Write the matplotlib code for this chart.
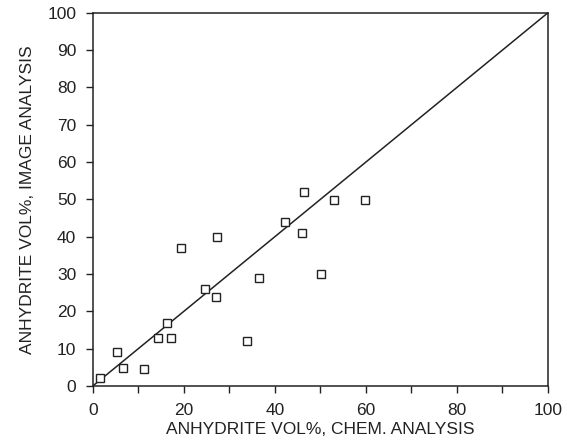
import matplotlib
matplotlib.use("Agg")
import matplotlib.pyplot as plt

# anhydrite vol%: chemical analysis vs image analysis
chem = [1.6, 5.3, 6.7, 11.3, 14.4, 16.2, 17.1, 19.3, 24.6, 27.0, 27.3,
        33.8, 36.5, 42.2, 45.9, 46.4, 50.1, 53.0, 59.8]
image = [2.2, 9.2, 4.9, 4.4, 12.9, 16.8, 12.9, 36.9, 25.9, 23.9, 39.9,
         12.0, 29.0, 43.9, 40.9, 52.0, 30.0, 49.9, 49.9]
line_x = [0, 100]
line_y = [0, 100]

plt.rcParams['font.family'] = ['Liberation Sans', 'DejaVu Sans']

fig = plt.figure(figsize=(5.81, 4.42), dpi=100)
ax = fig.add_axes([0.160, 0.127, 0.783, 0.844])

ax.plot(line_x, line_y, color='#222222', lw=1.1)
ax.plot(chem, image, 's', mfc='white', mec='#222222', ms=6, mew=1.0)

ax.set_xlim(0, 100)
ax.set_ylim(0, 100)
ax.set_xticks(range(0, 101, 20))
ax.set_xticks(range(10, 100, 20), minor=True)
ax.set_yticks(range(0, 101, 10))
ax.tick_params(which='both', direction='out', length=5, width=1,
               labelsize=12.5, colors='#222222')
ax.tick_params(axis='x', which='major', pad=7)
ax.tick_params(axis='y', pad=7)
for s in ax.spines.values():
    s.set_linewidth(1.1)
    s.set_color('#222222')

ax.set_xlabel('ANHYDRITE VOL%, CHEM. ANALYSIS', fontsize=12.5, color='#222222', labelpad=3)
ax.set_ylabel('ANHYDRITE VOL%, IMAGE ANALYSIS', fontsize=12.5, color='#222222', labelpad=9)

fig.savefig('out.png', dpi=100)
